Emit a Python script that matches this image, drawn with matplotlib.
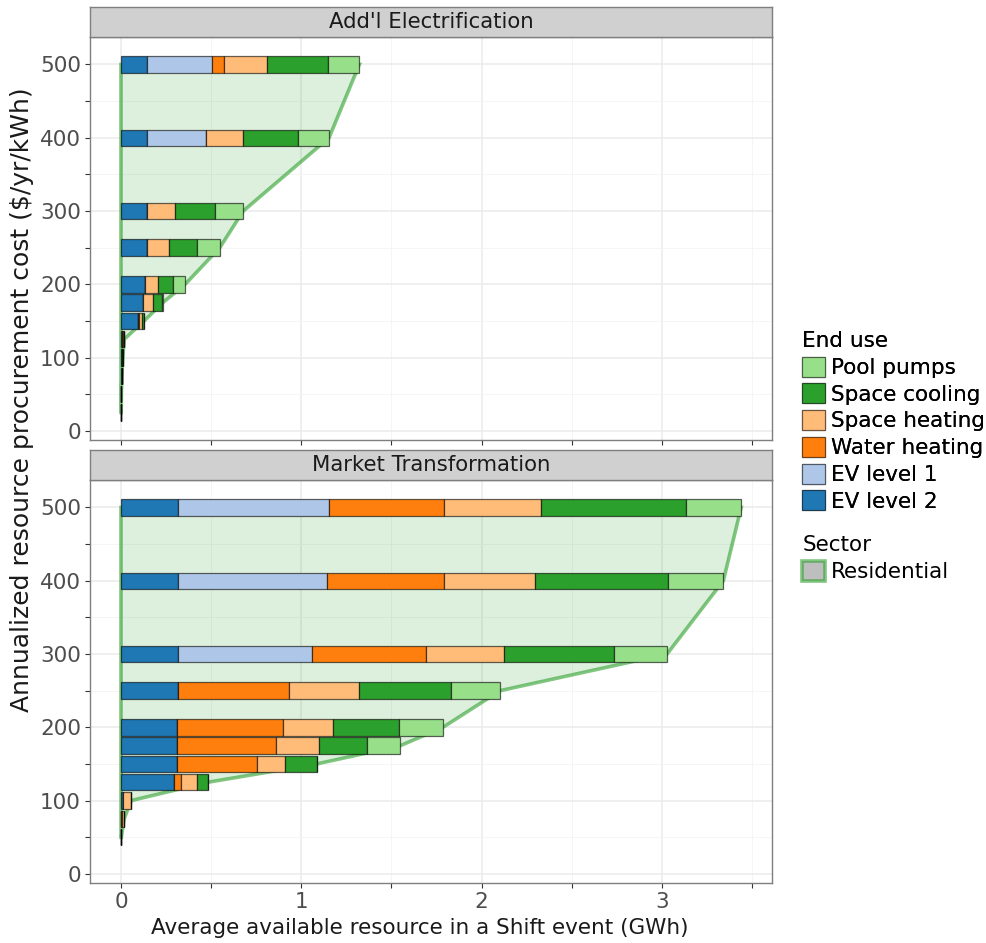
import numpy as np
import matplotlib.pyplot as plt
from matplotlib.patches import Patch, Polygon

plt.rcParams['font.family'] = ['DejaVu Sans']

end_uses = ['EV level 2', 'EV level 1', 'Water heating', 'Space heating',
            'Space cooling', 'Pool pumps']
colors = ['#1f77b4', '#aec7e8', '#ff7f0e', '#ffbb78', '#2ca02c', '#98df8a']

# Add'l Electrification scenario (GWh per end use at each cost step)
ae_cost = [25, 50, 75, 100, 125, 150, 175, 200, 250, 300, 400, 500]
ae_ev2 = [0.001, 0.002, 0.003, 0.004, 0.008, 0.092, 0.124, 0.135, 0.142, 0.142, 0.142, 0.142]
ae_ev1 = [0, 0, 0, 0, 0, 0, 0, 0, 0, 0, 0.327, 0.364]
ae_water = [0, 0, 0, 0, 0.002, 0.007, 0, 0, 0, 0, 0, 0.068]
ae_heat = [0, 0, 0.001, 0.003, 0.004, 0.018, 0.053, 0.072, 0.126, 0.159, 0.209, 0.237]
ae_cool = [0, 0, 0.001, 0.003, 0.004, 0.011, 0.050, 0.079, 0.153, 0.218, 0.306, 0.336]
ae_pool = [0, 0, 0, 0, 0, 0, 0.005, 0.070, 0.127, 0.159, 0.170, 0.175]

# Market Transformation scenario
mt_cost = [50, 75, 100, 125, 150, 175, 200, 250, 300, 400, 500]
mt_ev2 = [0.001, 0.002, 0.013, 0.292, 0.312, 0.312, 0.312, 0.318, 0.318, 0.318, 0.318]
mt_ev1 = [0, 0, 0, 0, 0, 0, 0, 0, 0.742, 0.827, 0.834]
mt_water = [0, 0.006, 0, 0.042, 0.443, 0.547, 0.584, 0.615, 0.633, 0.646, 0.638]
mt_heat = [0.001, 0.009, 0.044, 0.085, 0.154, 0.238, 0.280, 0.386, 0.429, 0.503, 0.540]
mt_cool = [0, 0, 0, 0.063, 0.177, 0.270, 0.368, 0.513, 0.615, 0.742, 0.805]
mt_pool = [0, 0, 0, 0, 0, 0.183, 0.242, 0.271, 0.292, 0.305, 0.305]

panels = [
    ("Add'l Electrification", ae_cost, [ae_ev2, ae_ev1, ae_water, ae_heat, ae_cool, ae_pool]),
    ("Market Transformation", mt_cost, [mt_ev2, mt_ev1, mt_water, mt_heat, mt_cool, mt_pool]),
]

W, H = 986, 943
fig = plt.figure(figsize=(W / 100, H / 100), dpi=100)

left, right = 90 / W, 772 / W
panel_px = [(37, 440), (480, 883)]
strip_h = 30
fs = 15.5

res_green = (0.173, 0.627, 0.173)
edge = (0, 0, 0, 0.6)

for i, (title, cost, series) in enumerate(panels):
    top, bot = panel_px[i]
    ax = fig.add_axes([left, 1 - bot / H, right - left, (bot - top) / H])
    cost = np.array(cost, dtype=float)
    totals = np.sum(np.array(series), axis=0)

    # residential supply envelope
    pts = [(0, cost[0])] + list(zip(totals, cost)) + [(0, cost[-1])]
    ax.add_patch(Polygon(pts, closed=True, facecolor=res_green + (0.16,),
                         edgecolor=res_green + (0.6,), linewidth=2.6, zorder=2))

    base = np.zeros(len(cost))
    for vals, c in zip(series, colors):
        vals = np.array(vals)
        ax.barh(cost, vals, left=base, height=22.5, color=c, edgecolor=edge,
                linewidth=0.9, zorder=3)
        base += vals

    ax.set_xlim(-0.172, 3.611)
    ax.set_ylim(-12.5, 537.5)
    ax.set_xticks([0, 1, 2, 3])
    ax.set_xticks([0.5, 1.5, 2.5, 3.5], minor=True)
    ax.set_yticks([0, 100, 200, 300, 400, 500])
    ax.set_yticks([50, 150, 250, 350, 450], minor=True)
    ax.grid(which='major', color='#ebebeb', linewidth=1.1, zorder=0)
    ax.grid(which='minor', color='#f4f4f4', linewidth=0.6, zorder=0)
    ax.set_axisbelow(True)
    for s in ax.spines.values():
        s.set_color('#7f7f7f')
        s.set_linewidth(1.0)
    ax.tick_params(which='both', length=3.5, width=0.8, color='#333333',
                   labelsize=fs, labelcolor='#4d4d4d', pad=3)
    if i == 0:
        ax.tick_params(axis='x', labelbottom=False)

    # facet strip
    sax = fig.add_axes([left, 1 - top / H, right - left, strip_h / H])
    sax.set_facecolor('#d0d0d0')
    sax.set_xticks([])
    sax.set_yticks([])
    for s in sax.spines.values():
        s.set_color('#7f7f7f')
        s.set_linewidth(1.0)
    sax.text(0.5, 0.5, title, ha='center', va='center', fontsize=15.3,
             color='#1a1a1a', transform=sax.transAxes)

fig.text(0.022, 1 - 400 / H,
         'Annualized resource procurement cost (\\$/yr/kWh)',
         rotation=90, ha='center', va='center', fontsize=18, color='#1a1a1a')
fig.text(420 / W, 1 - 928 / H,
         'Average available resource in a Shift event (GWh)',
         ha='center', va='center', fontsize=fs, color='#1a1a1a')

# legends
use_handles = [Patch(facecolor=c, edgecolor=(0, 0, 0, 0.45), linewidth=0.9)
               for c in colors[::-1]]
leg_kw = dict(loc='upper left', frameon=False, fontsize=fs, title_fontsize=fs,
              handlelength=1.05, handleheight=1.05, handletextpad=0.3,
              labelspacing=0.25, borderaxespad=0, borderpad=0.2,
              alignment='left')
leg1 = fig.legend(use_handles, end_uses[::-1], title='End use',
                  bbox_to_anchor=(798 / W, 1 - 327 / H), **leg_kw)
res_handle = [Patch(facecolor='#bebebe', edgecolor=res_green + (0.6,), linewidth=2.6)]
leg2 = fig.legend(res_handle, ['Residential'], title='Sector',
                  bbox_to_anchor=(798 / W, 1 - 531 / H), **leg_kw)
fig.add_artist(leg1)

fig.savefig('out.png', dpi=100)
